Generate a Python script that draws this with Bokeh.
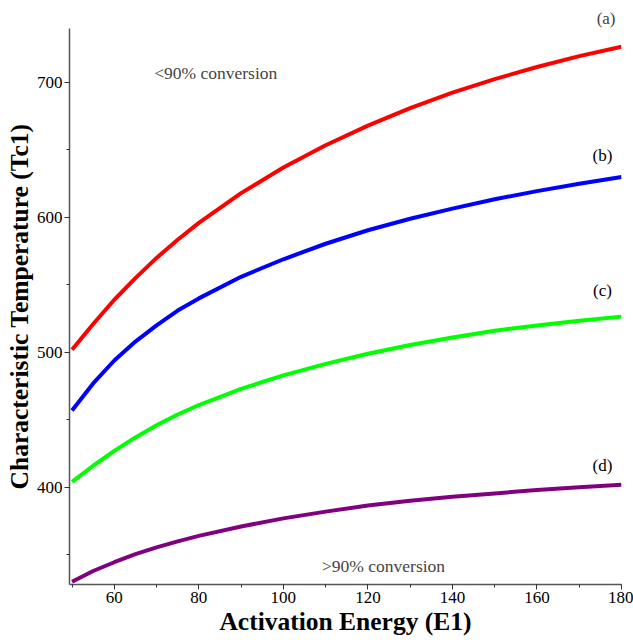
from bokeh.plotting import figure
from bokeh.models import Range1d, SingleIntervalTicker, Label, Title
from bokeh.embed import file_html
from bokeh.resources import INLINE

# Data
E = [50, 55, 60, 65, 70, 75, 80, 90, 100, 110, 120, 130, 140, 150, 160, 170, 180]
Tc_a = [502, 521, 539, 555, 570, 583.5, 596, 618, 637, 653.5, 668, 681, 692.5, 702.5, 711.5, 719.5, 726.5]
Tc_b = [457, 477, 494, 508, 520, 531, 540, 556, 569, 580.5, 590.5, 599, 606.5, 613.5, 619.5, 625, 630]
Tc_c = [404, 416, 427, 437, 446, 454, 461, 473, 483, 491.5, 499, 505.5, 511, 516, 520, 523.5, 526.5]
Tc_d = [330, 338, 344.5, 350.5, 355.5, 360, 364, 371, 377, 382, 386.5, 390, 393, 395.5, 398, 400, 402]
curve_tags = ["(b)", "(c)", "(d)"]
tag_y = [646, 546, 416]
colors = ["#ff0000", "#0000ff", "#00ff00", "#800080"]

FONT = "Liberation Serif"

p = figure(width=633, height=640, output_backend="svg", toolbar_location=None,
           x_range=Range1d(49.4, 180), y_range=Range1d(328, 740),
           min_border_left=69, min_border_right=12, min_border_top=28, min_border_bottom=56)
p.outline_line_color = None
p.xgrid.visible = False
p.ygrid.visible = False

for T, col in zip([Tc_a, Tc_b, Tc_c, Tc_d], colors):
    p.line(E, T, line_color=col, line_width=4, line_join="round")

p.add_layout(Title(text="(a)", align="right", text_font=FONT, text_font_size="17px",
                   text_font_style="normal", offset=6, standoff=1), "above")

for tag, ty in zip(curve_tags, tag_y):
    p.add_layout(Label(x=175.5, y=ty, text=tag, text_font=FONT, text_font_size="17px",
                       text_align="center", text_baseline="middle", text_color="black"))

p.add_layout(Label(x=84, y=707, text="<90% conversion", text_font=FONT, text_font_size="17.5px",
                   text_align="center", text_baseline="middle"))
p.add_layout(Label(x=123.7, y=342, text=">90% conversion", text_font=FONT, text_font_size="17.5px",
                   text_align="center", text_baseline="middle"))

p.xaxis.ticker = SingleIntervalTicker(interval=20, num_minor_ticks=2)
p.yaxis.ticker = SingleIntervalTicker(interval=100, num_minor_ticks=2)
p.xaxis.axis_label = "Activation Energy (E1)"
p.yaxis.axis_label = "Characteristic Temperature (Tc1)"
for ax in (p.xaxis, p.yaxis):
    ax.axis_label_text_font = FONT
    ax.axis_label_text_font_style = "bold"
    ax.axis_label_text_font_size = "25.5px"
    ax.axis_label_text_color = "black"
    ax.major_label_text_font = FONT
    ax.major_label_text_font_size = "17px"
    ax.major_label_text_color = "black"
    ax.major_label_standoff = 2
    ax.axis_line_color = "#555555"
    ax.axis_line_width = 1.5
    ax.major_tick_line_color = "#333333"
    ax.minor_tick_line_color = "#333333"
    ax.major_tick_out = 5
    ax.major_tick_in = 0
    ax.minor_tick_out = 3
    ax.minor_tick_in = 0
p.xaxis.axis_label_standoff = 1
p.yaxis.axis_label_standoff = 0

open("out.html", "w").write(file_html(p, INLINE))
